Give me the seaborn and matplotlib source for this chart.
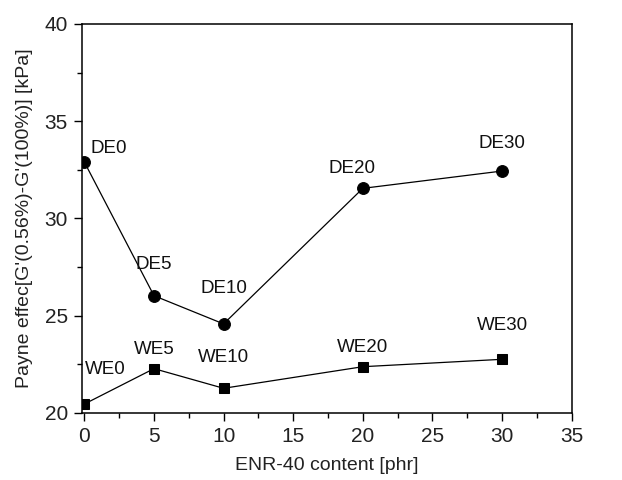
import matplotlib
matplotlib.use("Agg")
import matplotlib.pyplot as plt
import seaborn as sns
import pandas as pd
from matplotlib.ticker import MultipleLocator

sns.set_theme(style="ticks")
plt.rcParams['font.family'] = ['Liberation Sans', 'DejaVu Sans']

enr_content = [0, 5, 10, 20, 30]
de_values = [32.9, 26.03, 24.58, 31.55, 32.44]
we_values = [20.46, 22.28, 21.27, 22.38, 22.76]
de_labels = ["DE0", "DE5", "DE10", "DE20", "DE30"]
we_labels = ["WE0", "WE5", "WE10", "WE20", "WE30"]

df_de = pd.DataFrame({"x": enr_content, "y": de_values})
df_we = pd.DataFrame({"x": enr_content, "y": we_values})

fig = plt.figure(figsize=(6.22, 4.80), dpi=100)
ax = fig.add_axes([0.1314, 0.1396, 0.919 - 0.1314, 0.95 - 0.1396])

sns.lineplot(data=df_de, x="x", y="y", ax=ax, color="black", linewidth=0.9,
             marker="o", markersize=8.5, markeredgecolor="black", markerfacecolor="black")
sns.lineplot(data=df_we, x="x", y="y", ax=ax, color="black", linewidth=0.9,
             marker="s", markersize=7, markeredgecolor="black", markerfacecolor="black")

# label offsets in pixels (dx, dy) relative to marker, text centered
de_off = [(24, 14), (0, 31), (0, 35), (-11, 20), (0, 28)]
we_off = [(21, 35), (0, 19), (0, 31), (0, 19), (0, 34)]
for x, y, lab, (dx, dy) in zip(enr_content, de_values, de_labels, de_off):
    ax.annotate(lab, (x, y), xytext=(dx, dy), textcoords="offset pixels",
                ha="center", va="center", fontsize=13.5, color="#111111")
for x, y, lab, (dx, dy) in zip(enr_content, we_values, we_labels, we_off):
    ax.annotate(lab, (x, y), xytext=(dx, dy), textcoords="offset pixels",
                ha="center", va="center", fontsize=13.5, color="#111111")

ax.set_xlim(-0.19, 35)
ax.set_ylim(20, 40)
ax.xaxis.set_major_locator(MultipleLocator(5))
ax.xaxis.set_minor_locator(MultipleLocator(2.5))
ax.yaxis.set_major_locator(MultipleLocator(5))
ax.yaxis.set_minor_locator(MultipleLocator(2.5))
ax.tick_params(axis="both", which="major", direction="out", length=6, width=1,
               labelsize=15, colors="black", labelcolor="#222222", pad=4)
ax.tick_params(axis="both", which="minor", direction="out", length=3.5, width=1, colors="black")
ax.tick_params(top=False, right=False, which="both")
for s in ax.spines.values():
    s.set_visible(True)
    s.set_linewidth(1.1)
    s.set_color("black")

ax.set_xlabel("ENR-40 content [phr]", fontsize=14, color="#222222", labelpad=8)
ax.set_ylabel("Payne effec[G'(0.56%)-G'(100%)] [kPa]", fontsize=14, color="#222222", labelpad=8)
ax.grid(False)

fig.savefig("out.png", dpi=100)
